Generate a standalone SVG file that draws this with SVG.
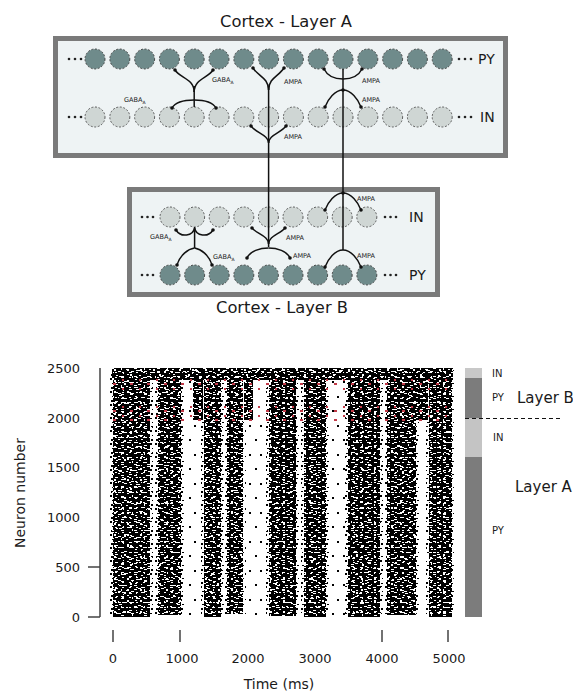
<svg xmlns="http://www.w3.org/2000/svg" width="573" height="692" viewBox="0 0 573 692">
<style>
.t{font-family:"DejaVu Sans","Liberation Sans",Arial,sans-serif;fill:#1a1a1a}
.py{fill:#6f8b8b;stroke:#2a2a2a;stroke-width:0.8;stroke-dasharray:2 1.6}
.in{fill:#cfd6d4;stroke:#3a3a3a;stroke-width:0.8;stroke-dasharray:2 1.6}
.box{fill:#eef3f4;stroke:#7a7a7a;stroke-width:5}
.c{fill:none;stroke:#111;stroke-width:1.5}
.ce{fill:none;stroke:#111;stroke-width:1.5;marker-end:url(#dot)}
.lb{font-size:6.5px}
.ax{fill:none;stroke:#444;stroke-width:1.5}
.dots{fill:#222}
.w{fill:#fff}
.k{fill:#000}
</style>
<defs>
<marker id="dot" markerUnits="userSpaceOnUse" viewBox="-2 -2 4 4" markerWidth="4" markerHeight="4" refX="0" refY="0"><circle r="1.8" fill="#111"/></marker>
<circle id="P" r="10" class="py"/>
<circle id="I" r="10" class="in"/>
<pattern id="d1" width="23" height="17" patternUnits="userSpaceOnUse"><rect width="23" height="17" fill="#000"/><rect class="w" x="1" y="1" width="2" height="1"/><rect class="w" x="6" y="3" width="3" height="1"/><rect class="w" x="12" y="0" width="2" height="1"/><rect class="w" x="17" y="2" width="1" height="2"/><rect class="w" x="20" y="5" width="2" height="1"/><rect class="w" x="3" y="6" width="1" height="1"/><rect class="w" x="9" y="7" width="3" height="1"/><rect class="w" x="15" y="8" width="2" height="1"/><rect class="w" x="0" y="10" width="3" height="1"/><rect class="w" x="6" y="11" width="1" height="2"/><rect class="w" x="11" y="12" width="2" height="1"/><rect class="w" x="19" y="11" width="3" height="1"/><rect class="w" x="3" y="14" width="2" height="1"/><rect class="w" x="14" y="15" width="3" height="1"/><rect class="w" x="8" y="16" width="1" height="1"/><rect class="w" x="21" y="15" width="1" height="1"/></pattern>
<pattern id="w2" width="13" height="11" patternUnits="userSpaceOnUse"><rect class="w" x="4" y="2" width="3" height="1"/><rect class="w" x="10" y="6" width="2" height="2"/><rect class="w" x="1" y="8" width="3" height="1"/></pattern>
<pattern id="w3" width="29" height="19" patternUnits="userSpaceOnUse"><rect class="w" x="8" y="3" width="2" height="2"/><rect class="w" x="20" y="9" width="4" height="1"/><rect class="w" x="3" y="15" width="3" height="1"/><rect class="w" x="25" y="17" width="2" height="1"/><rect class="w" x="14" y="13" width="2" height="2"/></pattern>
<pattern id="w4" width="7" height="5" patternUnits="userSpaceOnUse"><rect class="w" x="3" y="2" width="2" height="1"/></pattern>
<pattern id="sp" width="11" height="29" patternUnits="userSpaceOnUse"><rect class="k" x="2" y="4" width="2" height="2"/><rect class="k" x="7" y="19" width="2" height="2"/></pattern>
<pattern id="ed" width="5" height="13" patternUnits="userSpaceOnUse"><rect class="k" x="0" y="1" width="2" height="2"/><rect class="k" x="2" y="6" width="2" height="1"/><rect class="k" x="1" y="10" width="2" height="2"/></pattern>
<pattern id="rd" width="17" height="9" patternUnits="userSpaceOnUse"><rect x="3" y="1" width="2" height="2" fill="#c23a48"/><rect x="11" y="5" width="3" height="2" fill="#c23a48"/></pattern>
</defs>

<g id="layerA">
<text class="t" x="220" y="27" font-size="16" textLength="132" lengthAdjust="spacingAndGlyphs">Cortex - Layer A</text>
<rect class="box" x="55.5" y="38.5" width="450" height="117"/>
</g>
<g id="pyA">
<circle class="dots" cx="69" cy="59" r="1.3"/><circle class="dots" cx="75" cy="59" r="1.3"/><circle class="dots" cx="81" cy="59" r="1.3"/>
<use href="#P" x="95" y="59"/><use href="#P" x="119.8" y="59"/><use href="#P" x="144.6" y="59"/><use href="#P" x="169.4" y="59"/><use href="#P" x="194.2" y="59"/><use href="#P" x="219" y="59"/><use href="#P" x="243.8" y="59"/><use href="#P" x="268.6" y="59"/><use href="#P" x="293.4" y="59"/><use href="#P" x="318.2" y="59"/><use href="#P" x="343" y="59"/><use href="#P" x="367.8" y="59"/><use href="#P" x="392.6" y="59"/><use href="#P" x="417.4" y="59"/><use href="#P" x="442.2" y="59"/>
<circle class="dots" cx="459" cy="59" r="1.3"/><circle class="dots" cx="465" cy="59" r="1.3"/><circle class="dots" cx="471" cy="59" r="1.3"/>
<text class="t" x="478" y="64" font-size="14">PY</text>
</g>
<g id="inA">
<circle class="dots" cx="69" cy="117" r="1.3"/><circle class="dots" cx="75" cy="117" r="1.3"/><circle class="dots" cx="81" cy="117" r="1.3"/>
<use href="#I" x="95" y="117"/><use href="#I" x="119.8" y="117"/><use href="#I" x="144.6" y="117"/><use href="#I" x="169.4" y="117"/><use href="#I" x="194.2" y="117"/><use href="#I" x="219" y="117"/><use href="#I" x="243.8" y="117"/><use href="#I" x="268.6" y="117"/><use href="#I" x="293.4" y="117"/><use href="#I" x="318.2" y="117"/><use href="#I" x="343" y="117"/><use href="#I" x="367.8" y="117"/><use href="#I" x="392.6" y="117"/><use href="#I" x="417.4" y="117"/><use href="#I" x="442.2" y="117"/>
<circle class="dots" cx="459" cy="117" r="1.3"/><circle class="dots" cx="465" cy="117" r="1.3"/><circle class="dots" cx="471" cy="117" r="1.3"/>
<text class="t" x="480" y="122" font-size="14">IN</text>
</g>

<g id="layerB">
<rect class="box" x="129.5" y="189.5" width="308" height="105"/>
<text class="t" x="216" y="313" font-size="16" textLength="132" lengthAdjust="spacingAndGlyphs">Cortex - Layer B</text>
</g>
<g id="inB">
<circle class="dots" cx="142" cy="217" r="1.3"/><circle class="dots" cx="147.5" cy="217" r="1.3"/><circle class="dots" cx="153" cy="217" r="1.3"/>
<use href="#I" x="170" y="217"/><use href="#I" x="194.6" y="217"/><use href="#I" x="219.2" y="217"/><use href="#I" x="243.8" y="217"/><use href="#I" x="268.4" y="217"/><use href="#I" x="293" y="217"/><use href="#I" x="317.6" y="217"/><use href="#I" x="342.2" y="217"/><use href="#I" x="366.8" y="217"/>
<circle class="dots" cx="385" cy="217" r="1.3"/><circle class="dots" cx="390.5" cy="217" r="1.3"/><circle class="dots" cx="396" cy="217" r="1.3"/>
<text class="t" x="409" y="222" font-size="14">IN</text>
</g>
<g id="pyB">
<circle class="dots" cx="142" cy="275" r="1.3"/><circle class="dots" cx="147.5" cy="275" r="1.3"/><circle class="dots" cx="153" cy="275" r="1.3"/>
<use href="#P" x="170" y="275"/><use href="#P" x="194.6" y="275"/><use href="#P" x="219.2" y="275"/><use href="#P" x="243.8" y="275"/><use href="#P" x="268.4" y="275"/><use href="#P" x="293" y="275"/><use href="#P" x="317.6" y="275"/><use href="#P" x="342.2" y="275"/><use href="#P" x="366.8" y="275"/>
<circle class="dots" cx="385" cy="275" r="1.3"/><circle class="dots" cx="390.5" cy="275" r="1.3"/><circle class="dots" cx="396" cy="275" r="1.3"/>
<text class="t" x="409" y="280" font-size="14">PY</text>
</g>

<g id="connectors">
<path class="c" d="M194.2,86 V107"/>
<path class="ce" d="M194.2,92 C194.2,79 180,78 175,70"/>
<path class="ce" d="M194.2,92 C194.2,79 208,78 213,70"/>
<path class="ce" d="M194.2,100 C186,100 176,101 172,108"/>
<path class="ce" d="M194.2,100 C202,100 212,101 216,108"/>
<path class="c" d="M268.6,86 V247"/>
<path class="ce" d="M268.6,90 C268.6,78 258,76 253,68"/>
<path class="ce" d="M268.6,90 C268.6,78 279,76 284,68"/>
<path class="ce" d="M268.6,143 C268.6,135 256,133 251,126"/>
<path class="ce" d="M268.6,143 C268.6,135 281,133 286,126"/>
<path class="ce" d="M268.6,244 C268.6,236 257,234 252,228"/>
<path class="ce" d="M268.6,244 C268.6,236 280,234 285,228"/>
<path class="ce" d="M268.6,248 C260,248 250,251 247,258"/>
<path class="ce" d="M268.6,248 C277,248 287,251 290,258"/>
<path class="c" d="M343,69 V250"/>
<path class="ce" d="M343,79 C336,79 328,77 324,69"/>
<path class="ce" d="M343,79 C350,79 358,77 362,69"/>
<circle cx="343" cy="90" r="1.8" fill="#111"/>
<path class="ce" d="M343,90 C335,90 328,99 325,107"/>
<path class="ce" d="M343,90 C351,90 358,99 361,107"/>
<circle cx="343" cy="193" r="1.8" fill="#111"/>
<path class="ce" d="M343,193 C335,193 328,202 325,210"/>
<path class="ce" d="M343,193 C351,193 358,202 361,210"/>
<path class="ce" d="M343,250 C335,250 328,259 325,267"/>
<path class="ce" d="M343,250 C351,250 358,259 361,267"/>
<path class="c" d="M194.6,227 V248"/>
<path class="ce" d="M194.6,228 C193,236 181,238 176,230"/>
<path class="ce" d="M194.6,228 C196,236 208,238 213,230"/>
<path class="ce" d="M194.6,248 C188,249 180,255 177,265"/>
<path class="ce" d="M194.6,248 C201,249 209,255 212,265"/>
</g>
<g id="synapse-labels" class="t lb">
<text x="212" y="82">GABA<tspan font-size="4.5" dy="1.5">A</tspan></text>
<text x="124" y="102">GABA<tspan font-size="4.5" dy="1.5">A</tspan></text>
<text x="284" y="84">AMPA</text>
<text x="284" y="139">AMPA</text>
<text x="362" y="83">AMPA</text>
<text x="362" y="102">AMPA</text>
<text x="357" y="201">AMPA</text>
<text x="357" y="258">AMPA</text>
<text x="286" y="240">AMPA</text>
<text x="293" y="258">AMPA</text>
<text x="150" y="239">GABA<tspan font-size="4.5" dy="1.5">A</tspan></text>
<text x="213" y="259">GABA<tspan font-size="4.5" dy="1.5">A</tspan></text>
</g>

<g id="raster">
<rect x="112" y="368" width="341" height="12" fill="url(#d1)"/>
<rect x="113" y="368" width="37" height="249" fill="url(#d1)"/>
<rect x="158" y="368" width="23" height="247" fill="url(#d1)"/>
<rect x="193" y="368" width="10" height="52" fill="url(#d1)"/>
<rect x="204" y="368" width="17" height="249" fill="url(#d1)"/>
<rect x="227" y="368" width="16" height="246" fill="url(#d1)"/>
<rect x="244" y="368" width="9" height="52" fill="url(#d1)"/>
<rect x="269" y="368" width="27" height="248" fill="url(#d1)"/>
<rect x="304" y="368" width="22" height="249" fill="url(#d1)"/>
<rect x="348" y="368" width="32" height="249" fill="url(#d1)"/>
<rect x="387" y="368" width="29" height="247" fill="url(#d1)"/>
<rect x="413" y="368" width="15" height="52" fill="url(#d1)"/>
<rect x="429" y="368" width="23" height="249" fill="url(#d1)"/>
<g fill="url(#ed)">
<rect x="110" y="370" width="3" height="247"/><rect x="150" y="370" width="3" height="247"/>
<rect x="155" y="370" width="3" height="245"/><rect x="181" y="370" width="3" height="245"/>
<rect x="201" y="370" width="3" height="247"/><rect x="221" y="370" width="3" height="247"/>
<rect x="224" y="370" width="3" height="244"/><rect x="243" y="420" width="3" height="194"/>
<rect x="266" y="370" width="3" height="246"/><rect x="296" y="370" width="3" height="246"/>
<rect x="301" y="370" width="3" height="247"/><rect x="326" y="370" width="3" height="247"/>
<rect x="345" y="370" width="3" height="247"/><rect x="380" y="370" width="3" height="247"/>
<rect x="384" y="370" width="3" height="245"/><rect x="416" y="370" width="3" height="245"/>
<rect x="426" y="370" width="3" height="247"/><rect x="452" y="370" width="2" height="247"/>
</g>
<rect x="112" y="368" width="341" height="249" fill="url(#w2)"/>
<rect x="112" y="368" width="341" height="249" fill="url(#w3)"/>
<rect x="112" y="368" width="341" height="249" fill="url(#w4)"/>
<rect x="185" y="380" width="15" height="237" fill="url(#sp)"/>
<rect x="247" y="420" width="18" height="197" fill="url(#sp)"/>
<rect x="330" y="368" width="15" height="249" fill="url(#sp)"/>
<rect x="112" y="379" width="341" height="13" fill="url(#rd)"/>
<rect x="112" y="404" width="341" height="18" fill="url(#rd)"/>
</g>

<g id="axes">
<path class="ax" d="M100,368 V617 M88,567 H100 M88,617 H100"/>
<path class="ax" d="M113,630 V642 M180,630 V642 M382,630 V642 M448,630 V642"/>
<g class="t" font-size="13" text-anchor="end">
<text x="80" y="373">2500</text>
<text x="80" y="423">2000</text>
<text x="80" y="472">1500</text>
<text x="80" y="522">1000</text>
<text x="80" y="572">500</text>
<text x="80" y="622">0</text>
</g>
<g class="t" font-size="13" text-anchor="middle">
<text x="113" y="663">0</text>
<text x="182" y="663">1000</text>
<text x="248" y="663">2000</text>
<text x="315" y="663">3000</text>
<text x="382" y="663">4000</text>
<text x="449" y="663">5000</text>
</g>
<text class="t" x="279" y="689" font-size="14" text-anchor="middle">Time (ms)</text>
<text class="t" transform="translate(25,493) rotate(-90)" font-size="14" text-anchor="middle">Neuron number</text>
</g>

<g id="layer-bar">
<rect x="465" y="368" width="17" height="10" fill="#c8c8c8"/>
<rect x="465" y="378" width="17" height="40" fill="#7c7c7c"/>
<rect x="465" y="418" width="17" height="39" fill="#c4c4c4"/>
<rect x="465" y="457" width="17" height="160" fill="#7c7c7c"/>
<path d="M465,418.5 H563" stroke="#111" stroke-width="1" stroke-dasharray="4 3"/>
<g class="t" font-size="10">
<text x="492" y="377">IN</text>
<text x="492" y="401">PY</text>
<text x="493" y="441">IN</text>
<text x="492" y="534">PY</text>
</g>
<text class="t" x="517" y="403" font-size="15">Layer B</text>
<text class="t" x="515" y="492" font-size="15">Layer A</text>
</g>
</svg>
